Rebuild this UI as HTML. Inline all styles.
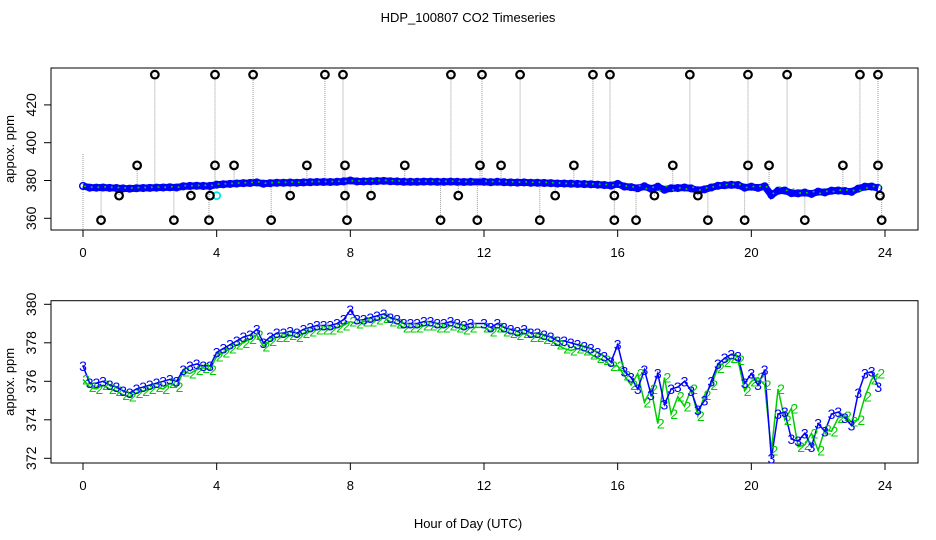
<!DOCTYPE html>
<html><head><meta charset="utf-8"><style>
body{margin:0;background:#fff}
svg{display:block;font-family:"Liberation Sans",sans-serif}
</style></head><body>
<svg id="chart" width="936" height="540" viewBox="0 0 936 540" xmlns="http://www.w3.org/2000/svg">
<rect width="936" height="540" fill="#fff"/>
<text x="468" y="22" font-size="13" text-anchor="middle">HDP_100807  CO2 Timeseries</text>
<g id="topPanel"></g>
<g id="botPanel"></g>
<text x="468" y="528" font-size="13" text-anchor="middle">Hour of Day (UTC)</text>
</svg>
<script>
const xTicks=[0,4,8,12,16,20,24];
const topYTicks=[360,380,400,420];
const botYTicks=[372,374,376,378,380];
const hours=[0,0.2,0.4,0.6,0.8,1,1.2,1.4,1.6,1.8,2,2.2,2.4,2.6,2.8,3,3.2,3.4,3.6,3.8,4,4.2,4.4,4.6,4.8,5,5.2,5.4,5.6,5.8,6,6.2,6.4,6.6,6.8,7,7.2,7.4,7.6,7.8,8,8.2,8.4,8.6,8.8,9,9.2,9.4,9.6,9.8,10,10.2,10.4,10.6,10.8,11,11.2,11.4,11.6,12,12.2,12.4,12.6,12.8,13,13.2,13.4,13.6,13.8,14,14.2,14.4,14.6,14.8,15,15.2,15.4,15.6,15.8,16,16.2,16.4,16.6,16.8,17,17.2,17.4,17.6,17.8,18,18.2,18.4,18.6,18.8,19,19.2,19.4,19.6,19.8,20,20.2,20.4,20.6,20.8,21,21.2,21.4,21.6,21.8,22,22.2,22.4,22.6,22.8,23,23.2,23.4,23.6,23.8];
const co2Sensor3=[376.8,375.9,375.9,376.0,375.8,375.7,375.5,375.4,375.6,375.7,375.8,375.9,376.0,376.1,376.0,376.6,376.8,376.9,376.8,376.8,377.5,377.7,377.9,378.1,378.3,378.4,378.7,378.0,378.3,378.5,378.5,378.6,378.5,378.7,378.8,378.9,378.9,378.9,379.0,379.2,379.7,379.2,379.2,379.3,379.4,379.5,379.3,379.2,379.0,379.0,379.0,379.1,379.1,379.0,379.0,379.1,379.0,378.9,379.0,379.0,378.8,379.0,378.8,378.7,378.6,378.7,378.5,378.5,378.4,378.3,378.1,378.1,378.0,377.9,377.8,377.7,377.5,377.3,377.0,377.9,376.5,376.2,375.6,376.6,375.3,376.4,374.8,375.6,375.7,376.0,375.5,374.5,375.0,376.0,376.9,377.2,377.4,377.3,375.9,376.4,375.8,376.6,372.0,374.3,374.4,373.0,372.9,373.3,372.6,373.8,373.4,374.3,374.4,374.1,373.7,375.4,376.4,376.5,375.7];
const co2Sensor2=[376.1,375.7,375.6,375.8,375.6,375.5,375.3,375.2,375.4,375.5,375.6,375.7,375.6,375.9,375.7,376.5,376.4,376.6,376.7,376.6,377.3,377.5,377.7,377.9,378.0,378.2,378.4,377.8,378.1,378.3,378.3,378.4,378.3,378.5,378.6,378.7,378.7,378.7,378.8,378.9,379.1,379.0,379.1,379.1,379.2,379.3,379.1,379.0,378.8,378.8,378.8,378.9,378.9,378.8,378.8,378.9,378.8,378.7,378.8,378.8,378.6,378.8,378.6,378.5,378.4,378.5,378.3,378.3,378.2,378.1,377.9,377.7,377.6,377.7,377.6,377.4,377.2,377.1,376.8,376.8,376.3,375.8,376.4,374.9,375.6,373.8,376.2,374.3,375.2,374.7,375.6,374.2,375.3,375.8,376.7,377.0,377.2,377.1,375.5,376.0,376.2,375.8,372.4,375.6,374.0,374.6,372.6,372.7,373.3,372.4,373.5,373.4,374.1,374.2,373.9,374.0,375.2,376.1,376.4];
const outlierHours=[2.15,3.95,5.09,7.24,7.78,11.01,11.94,13.08,15.26,15.77,18.16,19.9,21.07,23.25,23.79,1.62,3.95,4.52,6.7,7.84,9.63,11.88,12.51,14.69,17.65,19.9,20.53,22.74,23.79,1.08,3.23,3.8,6.2,7.84,8.62,11.23,14.13,15.9,17.1,18.4,23.85,0.54,2.72,3.77,5.63,7.9,10.7,11.8,13.67,15.9,16.55,18.7,19.8,21.6,23.9];
const outlierValues=[436,436,436,436,436,436,436,436,436,436,436,436,436,436,436,388,388,388,388,388,388,388,388,388,388,388,388,388,388,372,372,372,372,372,372,372,372,372,372,372,372,359,359,359,359,359,359,359,359,359,359,359,359,359,359];

const NS='http://www.w3.org/2000/svg';
function mk(parent,tag,attrs,name,text){const e=document.createElementNS(NS,tag);for(const k in attrs)e.setAttribute(k,attrs[k]);


if(text!==undefined)e.textContent=text;parent.appendChild(e);return e;}
const X=h=>83+h*(885-83)/24;
const topY=v=>218.3-(v-360)*1.89;
const botY=v=>458.3-(v-372)*(458.3-304.3)/8;
const n3=Math.min(hours.length,co2Sensor3.length);
const n2=Math.min(hours.length,co2Sensor2.length);
const nO=Math.min(outlierHours.length,outlierValues.length);

function axes(g,y0,y1,yTicks,Y,prefix){
  mk(g,'rect',{x:51,y:y0,width:867,height:y1-y0,fill:'none',stroke:'#000','stroke-width':1},prefix+'-plot-frame');
  xTicks.forEach(t=>{mk(g,'line',{x1:X(t),x2:X(t),y1:y1,y2:y1+7,stroke:'#000'},prefix+'-x-tick');
    mk(g,'text',{x:X(t),y:y1+27,'font-size':13,'text-anchor':'middle'},prefix+'-x-tick-label',String(t));});
  yTicks.forEach(t=>{const y=Y(t);mk(g,'line',{x1:44,x2:51,y1:y,y2:y,stroke:'#000'},prefix+'-y-tick');
    mk(g,'text',{x:0,y:0,'font-size':14,'text-anchor':'middle',transform:`translate(36,${y}) rotate(-90)`},prefix+'-y-tick-label',String(t));});
  mk(g,'text',{x:0,y:0,'font-size':13,'text-anchor':'middle',transform:`translate(14,${(y0+y1)/2}) rotate(-90)`},prefix+'-y-axis-title','appox. ppm');
}
const topG=document.getElementById('topPanel'), botG=document.getElementById('botPanel');
axes(topG,68,230,topYTicks,topY,'top');
axes(botG,300.7,463,botYTicks,botY,'bottom');

const off=0.3;
const seriesT=mk(topG,'g',{},'top-series');
mk(seriesT,'line',{x1:X(0),x2:X(0),y1:topY(394),y2:230,stroke:'#999','stroke-dasharray':'1,1'},'start-connector');
for(let i=0;i<nO;i++){const h=outlierHours[i];let k=0;for(let j=0;j<n3;j++)if(Math.abs(hours[j]-h)<Math.abs(hours[k]-h))k=j;
  mk(seriesT,'line',{x1:X(h),x2:X(h),y1:topY(co2Sensor3[k]+off),y2:topY(outlierValues[i]),stroke:'#999','stroke-dasharray':'1,1'},'outlier-connector');}
const ptsT=[];for(let i=0;i<n3;i++)ptsT.push(X(hours[i])+','+topY(co2Sensor3[i]+off));
mk(seriesT,'polyline',{points:ptsT.join(' '),fill:'none',stroke:'#0000ff','stroke-width':7},'top-raw-line');
for(let i=0;i<n3;i++)mk(seriesT,'circle',{cx:X(hours[i]),cy:topY(co2Sensor3[i]+off),r:3.3,fill:'none',stroke:'#0000ff','stroke-width':1.5},'top-raw-point');
for(let i=0;i<n2;i++)mk(seriesT,'circle',{cx:X(hours[i])+2,cy:topY(co2Sensor2[i]+off+0.5),r:1,fill:'#00cc00'},'top-sensor2-point');
mk(seriesT,'circle',{cx:X(4.0),cy:topY(372),r:3.5,fill:'none',stroke:'#00e5e5','stroke-width':1.8},'cyan-point');
for(let i=0;i<nO;i++)mk(seriesT,'circle',{cx:X(outlierHours[i]),cy:topY(outlierValues[i]),r:3.8,fill:'none',stroke:'#000','stroke-width':2.2},'outlier-point');

const p2=[],p3=[];
for(let i=0;i<n2;i++)p2.push(X(hours[i])+','+botY(co2Sensor2[i]));
for(let i=0;i<n3;i++)p3.push(X(hours[i])+','+botY(co2Sensor3[i]));
mk(botG,'polyline',{points:p2.join(' '),fill:'none',stroke:'#00cc00','stroke-width':1.5},'sensor2-line');
mk(botG,'polyline',{points:p3.join(' '),fill:'none',stroke:'#0000ff','stroke-width':1.5},'sensor3-line');
for(let i=0;i<n2;i++)mk(botG,'text',{x:X(hours[i])+3,y:botY(co2Sensor2[i])+5,'font-size':14,fill:'#00cc00','text-anchor':'middle'},'sensor2-point','2');
for(let i=0;i<n3;i++)mk(botG,'text',{x:X(hours[i]),y:botY(co2Sensor3[i])+5,'font-size':14,fill:'#0000ff','text-anchor':'middle'},'sensor3-point','3');
</script>
</body></html>
